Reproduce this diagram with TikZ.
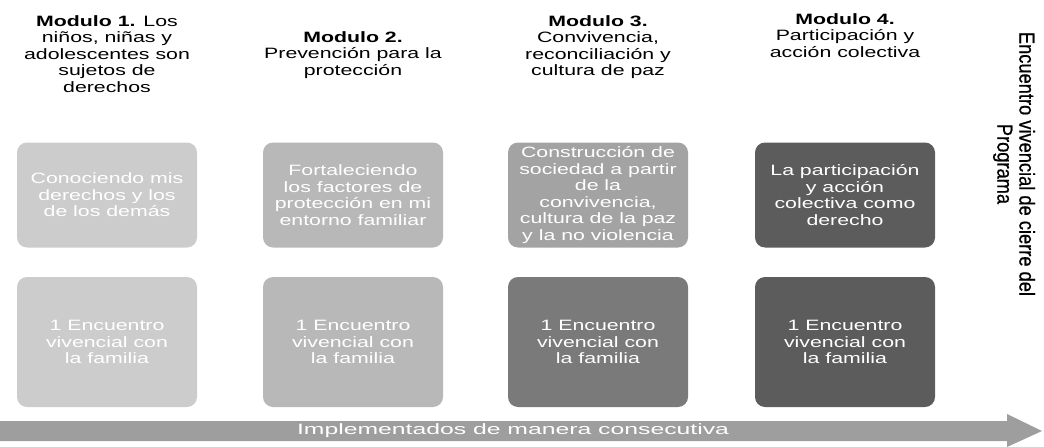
\documentclass[tikz,border=0pt]{standalone}
\usepackage{fontspec}
\setmainfont{Liberation Sans}
\newfontfamily\wideface[FakeStretch=1.42]{Liberation Sans}
\newfontfamily\arrowface[FakeStretch=1.65]{Liberation Sans}
\newfontfamily\tallface[FakeStretch=0.85, FakeBold=0.6]{Liberation Sans}
\usetikzlibrary{positioning}

\definecolor{boxa}{gray}{0.80}
\definecolor{boxb}{gray}{0.72}
\definecolor{boxc}{gray}{0.64}
\definecolor{boxd}{gray}{0.48}
\definecolor{boxe}{gray}{0.36}
\definecolor{arrowgray}{gray}{0.62}

\tikzset{
  modhead/.style={anchor=north, align=center, font=\wideface\fontsize{15}{16.5}\selectfont},
  topbox/.style={rectangle, rounded corners=10pt, minimum width=180pt, minimum height=105pt,
    inner ysep=0pt, align=center, text=white, font=\wideface\fontsize{15}{16.5}\selectfont},
  lowbox/.style={topbox, minimum height=130pt}
}

\begin{document}
\begin{tikzpicture}[x=1pt, y=-1pt]
    \useasboundingbox (0,0) rectangle (1044,447);

    % Headers
    \node (h1) [modhead] at (107, 12) {\textbf{Modulo 1.} Los\\niños, niñas y\\adolescentes son\\sujetos de\\derechos};
    \node (h2) [modhead] at (353, 28) {\textbf{Modulo 2.}\\Prevención para la\\protección};
    \node (h3) [modhead] at (598, 12) {\textbf{Modulo 3.}\\Convivencia,\\reconciliación y\\cultura de paz};
    \node (h4) [modhead] at (845, 10) {\textbf{Modulo 4.}\\Participación y\\acción colectiva};

    % Upper boxes
    \node (a1) [topbox, fill=boxa] at (107, 195) {Conociendo mis\\derechos y los\\de los demás};
    \node (a2) [topbox, fill=boxb] at (353, 195) {Fortaleciendo\\los factores de\\protección en mi\\entorno familiar};
    \node (a3) [topbox, fill=boxc] at (598, 195) {Construcción de\\sociedad a partir\\de la\\convivencia,\\cultura de la paz\\y la no violencia};
    \node (a4) [topbox, fill=boxe] at (845, 195) {La participación\\y acción\\colectiva como\\derecho};

    % Lower boxes
    \node (b1) [lowbox, fill=boxa] at (107, 342) {1 Encuentro\\vivencial con\\la familia};
    \node (b2) [lowbox, fill=boxb] at (353, 342) {1 Encuentro\\vivencial con\\la familia};
    \node (b3) [lowbox, fill=boxd] at (598, 342) {1 Encuentro\\vivencial con\\la familia};
    \node (b4) [lowbox, fill=boxe] at (845, 342) {1 Encuentro\\vivencial con\\la familia};

    % Closing
    \node (cierre) [align=center, rotate=-90, font=\tallface\fontsize{21.5}{22}\selectfont] at (1014, 164)
      {Encuentro vivencial de cierre del\\Programa};

    % Arrow
    \fill[arrowgray] (0,421) -- (1007,421) -- (1007,414) -- (1042,431) -- (1007,447) -- (1007,441) -- (0,441) -- cycle;
    \node (seq) [text=white, font=\arrowface\fontsize{15}{17}\selectfont] at (513, 431) {Implementados de manera consecutiva};

\end{tikzpicture}
\end{document}
